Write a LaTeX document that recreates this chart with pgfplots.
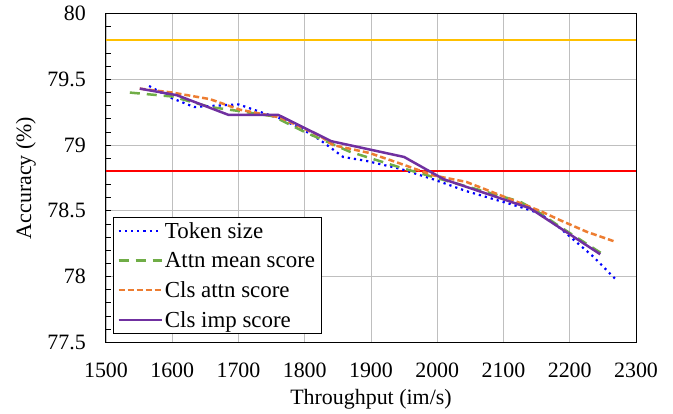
\documentclass[border=0pt]{standalone}
\usepackage{fontspec}
\setmainfont{Liberation Serif}
\setsansfont{Liberation Serif}
\usepackage{pgfplots}
\pgfplotsset{compat=1.18}
\definecolor{cblue}{HTML}{0000FF}
\definecolor{cgreen}{HTML}{70AD47}
\definecolor{corange}{HTML}{ED7D31}
\definecolor{cpurple}{HTML}{7030A0}
\definecolor{cred}{HTML}{FF0000}
\definecolor{cyellow}{HTML}{FFC000}
\definecolor{cgrid}{HTML}{BFBFBF}
\begin{document}
\begin{tikzpicture}
\useasboundingbox (-106bp,-71.7bp) rectangle (567bp,342.3bp);
\begin{axis}[
  at={(0,0)}, anchor=south west,
  scale only axis, width=530bp, height=328.6bp,
  xmin=1500, xmax=2300, ymin=77.5, ymax=80,
  xtick={1500,1600,...,2300}, ytick={77.5,78,...,80},
  minor y tick num=4,
  grid=major, major grid style={color=cgrid, line width=0.9bp},
  tick align=inside, ytick pos=left, xtick pos=bottom,
  x tick style={draw=none},
  y tick style={black, line width=0.9bp},
  major tick length=5bp, minor tick length=5bp,
  axis line style={black, line width=1bp},
  /pgf/number format/assume math mode=true,
  /pgf/number format/1000 sep={},
  tick label style={font=\rmfamily\fontsize{22}{26}\selectfont},
  xticklabel style={yshift=-17bp},
  yticklabel style={inner xsep=20bp},
  label style={font=\rmfamily\fontsize{22}{26}\selectfont},
  xlabel={Throughput (im/s)}, ylabel={Accuracy (\%)},
  xlabel style={at={(axis description cs:0.5,-0.1726)}, anchor=center},
  ylabel style={at={(axis description cs:-0.151,0.5)}, anchor=center},
  legend cell align=left,
  legend style={at={(0.0132,0.0253)}, anchor=south west, draw=black, line width=0.8bp,
    font=\rmfamily\fontsize{23}{26}\selectfont, row sep=8.5bp, inner xsep=4bp, inner ysep=3bp},
  legend image code/.code={\draw[#1] (0bp,0bp) -- (43bp,0bp);},
]
\addplot[cyellow, line width=2bp, forget plot] coordinates {(1500,79.8) (2300,79.8)};
\addplot[cred, line width=2bp, forget plot] coordinates {(1500,78.8) (2300,78.8)};
\addplot[cblue, line width=2.2bp, dash pattern=on 2.2bp off 4bp] coordinates {
(1565,79.45) (1598,79.36) (1633,79.29) (1665,79.30) (1700,79.31) (1740,79.24) (1765,79.20)
(1800,79.11) (1823,79.04) (1858,78.91) (1893,78.88) (1944,78.82) (1994,78.74) (2044,78.65)
(2125,78.53) (2155,78.48) (2185,78.37) (2236,78.15) (2271,77.97)};
\addlegendentry{Token size}
\addplot[cgreen, line width=2.5bp, dash pattern=on 10bp off 7bp] coordinates {
(1536,79.40) (1600,79.37) (1657,79.29) (1700,79.26) (1752,79.22) (1800,79.10) (1868,78.95)
(1944,78.83) (2020,78.72) (2070,78.65) (2125,78.57) (2150,78.50) (2185,78.38) (2250,78.17)};
\addlegendentry{Attn mean score}
\addplot[corange, line width=2.5bp, dash pattern=on 6bp off 3bp] coordinates {
(1551,79.43) (1600,79.40) (1657,79.35) (1702,79.27) (1763,79.21) (1823,79.07) (1843,79.00)
(1898,78.94) (1944,78.86) (1994,78.77) (2044,78.72) (2125,78.56) (2155,78.50) (2185,78.43)
(2226,78.34) (2266,78.27)};
\addlegendentry{Cls attn score}
\addplot[cpurple, line width=2.5bp] coordinates {
(1551,79.43) (1607,79.38) (1685,79.23) (1760,79.23) (1840,79.03) (1950,78.91) (2010,78.74)
(2140,78.52) (2246,78.17)};
\addlegendentry{Cls imp score}
\end{axis}
\end{tikzpicture}
\end{document}
